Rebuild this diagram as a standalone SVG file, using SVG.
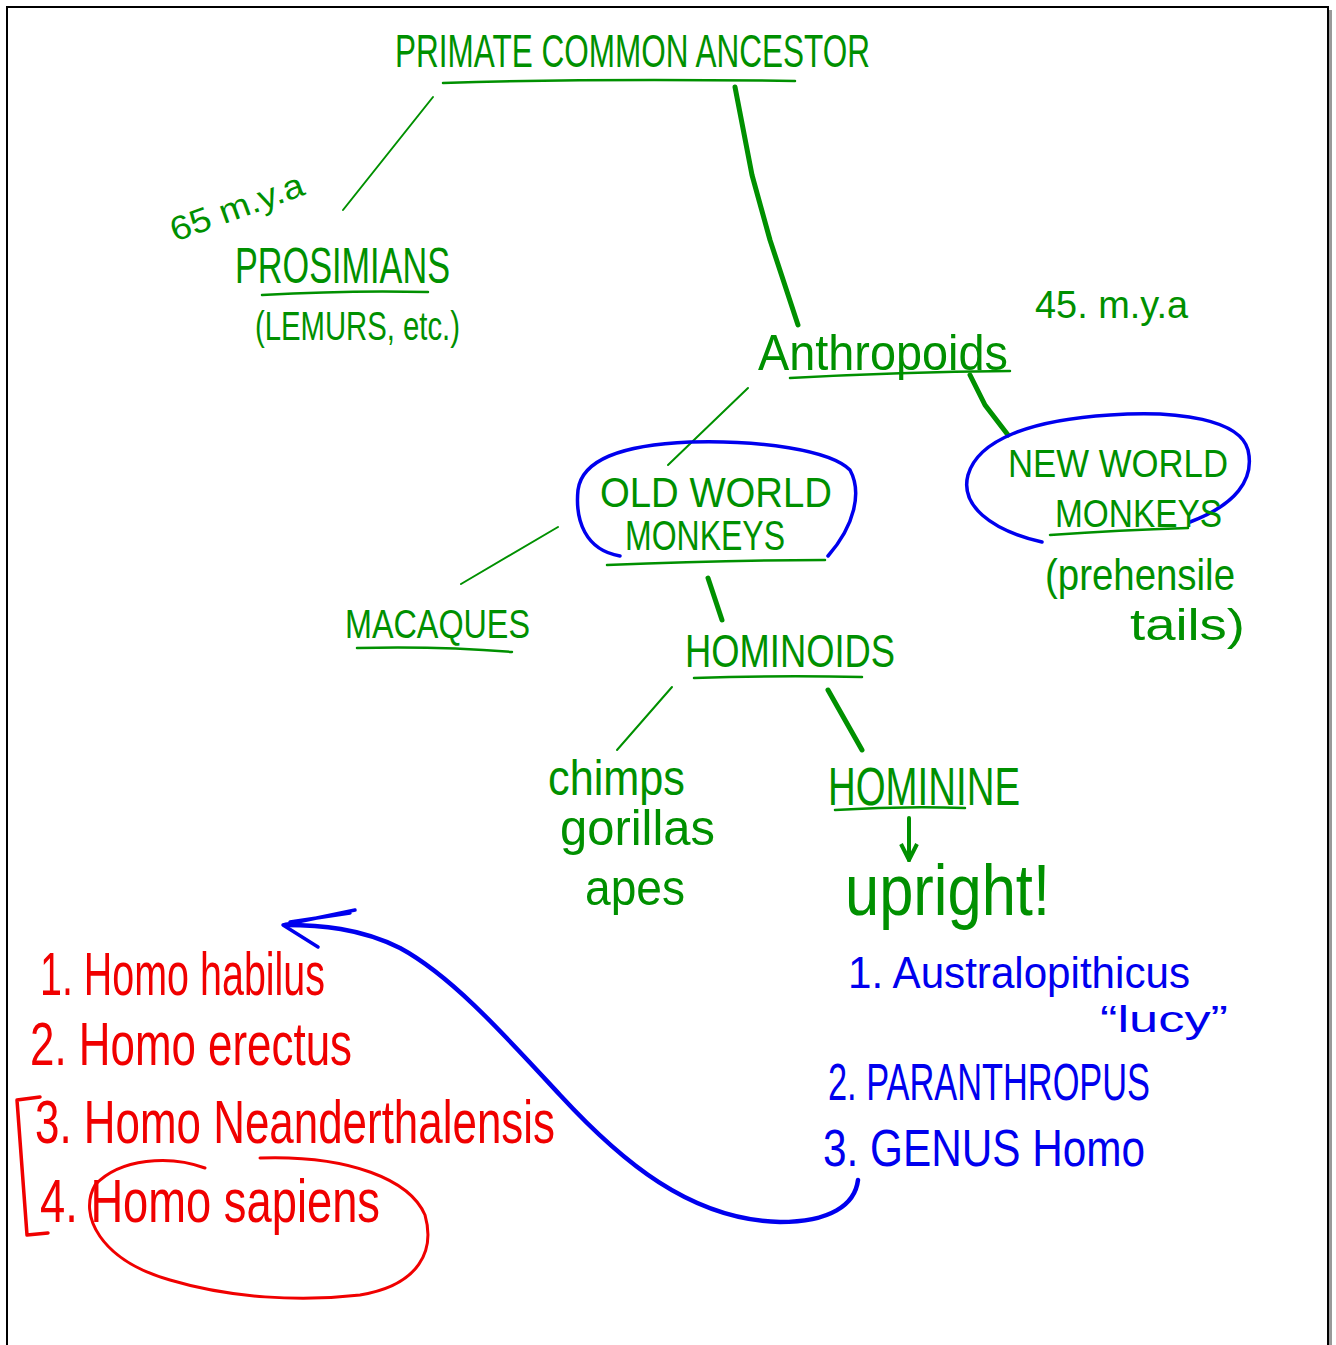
<svg xmlns="http://www.w3.org/2000/svg" width="1336" height="1345" viewBox="0 0 1336 1345">
<style>
text{font-family:"Liberation Sans","DejaVu Sans",sans-serif;}
.g{fill:#009000;}
.b{fill:#0000EE;}
.r{fill:#F00000;}
.gl{fill:none;stroke:#009000;stroke-linecap:round;stroke-linejoin:round;}
.bl{fill:none;stroke:#0000EE;stroke-linecap:round;stroke-linejoin:round;}
.rl{fill:none;stroke:#F00000;stroke-linecap:round;stroke-linejoin:round;}
</style>
<defs>
<marker id="ah" viewBox="0 0 10 10" refX="9" refY="5" markerWidth="5" markerHeight="5" orient="auto">
<path d="M1,1 L9,5 L1,9" fill="none" stroke="#009000" stroke-width="2"/>
</marker>
</defs>
<rect x="0" y="0" width="1336" height="1345" fill="#fff"/>
<path d="M1330,10 L1330,1345" stroke="#999" stroke-width="4"/>
<path d="M7,1345 L7,7 L1328,7 L1328,1345" fill="none" stroke="#000" stroke-width="2"/>

<g id="connectors">
<path class="gl" stroke-width="2" d="M433,97 L343,210"/>
<path class="gl" stroke-width="5" d="M735,87 L752,175 L770,240 L798,325"/>
<path class="gl" stroke-width="2" d="M748,388 L668,465"/>
<path class="gl" stroke-width="5" d="M970,375 L985,405 L1008,435"/>
<path class="gl" stroke-width="2" d="M558,527 L461,584"/>
<path class="gl" stroke-width="5" d="M708,578 L722,620"/>
<path class="gl" stroke-width="2" d="M672,687 L617,750"/>
<path class="gl" stroke-width="5" d="M828,690 L862,750"/>
<path class="gl" stroke-width="4" d="M909,818 L909,860" marker-end="url(#ah)"/>
<path class="bl" stroke-width="4.5" d="M858,1180 C855,1205 830,1222 780,1222 C690,1220 620,1160 560,1095 C500,1030 450,975 400,948 C360,928 320,925 285,925"/>
<path class="bl" stroke-width="3.5" d="M318,947 L283,925 L355,910 M290,922 L350,913"/>
</g>

<g id="primate-common-ancestor">
<text class="g" x="395" y="67" font-size="46" textLength="475" lengthAdjust="spacingAndGlyphs">PRIMATE COMMON ANCESTOR</text>
<path class="gl" stroke-width="2.5" d="M443,83 Q600,78 795,81"/>
</g>

<g id="mya-65">
<text class="g" x="175" y="242" font-size="34" textLength="140" lengthAdjust="spacingAndGlyphs" transform="rotate(-20 175 242)">65 m.y.a</text>
</g>

<g id="prosimians">
<text class="g" x="235" y="283" font-size="50" textLength="215" lengthAdjust="spacingAndGlyphs">PROSIMIANS</text>
<path class="gl" stroke-width="2.5" d="M262,295 Q350,290 428,292"/>
<text class="g" x="255" y="340" font-size="40" textLength="205" lengthAdjust="spacingAndGlyphs">(LEMURS, etc.)</text>
</g>

<g id="anthropoids">
<text class="g" x="758" y="370" font-size="50" textLength="250" lengthAdjust="spacingAndGlyphs">Anthropoids</text>
<path class="gl" stroke-width="2.5" d="M790,378 Q900,372 1010,371"/>
</g>

<g id="mya-45">
<text class="g" x="1035" y="318" font-size="38" textLength="153" lengthAdjust="spacingAndGlyphs">45. m.y.a</text>
</g>

<g id="old-world-monkeys">
<path class="bl" stroke-width="3.5" d="M620,556 C585,550 575,520 578,490 C582,460 620,445 690,442 C760,440 830,450 850,470 C862,492 855,525 828,556"/>
<text class="g" x="600" y="507" font-size="42" textLength="232" lengthAdjust="spacingAndGlyphs">OLD WORLD</text>
<text class="g" x="625" y="550" font-size="42" textLength="160" lengthAdjust="spacingAndGlyphs">MONKEYS</text>
<path class="gl" stroke-width="2.5" d="M607,565 Q720,560 825,560"/>
</g>

<g id="new-world-monkeys">
<path class="bl" stroke-width="3.5" d="M1042,542 C990,530 960,505 968,475 C978,440 1030,420 1110,415 C1180,410 1240,420 1248,450 C1255,480 1235,505 1190,522"/>
<text class="g" x="1008" y="477" font-size="38" textLength="220" lengthAdjust="spacingAndGlyphs">NEW WORLD</text>
<text class="g" x="1055" y="527" font-size="38" textLength="167" lengthAdjust="spacingAndGlyphs">MONKEYS</text>
<path class="gl" stroke-width="2.5" d="M1050,535 Q1120,530 1188,528"/>
<text class="g" x="1045" y="590" font-size="44" textLength="190" lengthAdjust="spacingAndGlyphs">(prehensile</text>
<text class="g" x="1130" y="640" font-size="44" textLength="115" lengthAdjust="spacingAndGlyphs">tails)</text>
</g>

<g id="macaques">
<text class="g" x="345" y="638" font-size="40" textLength="185" lengthAdjust="spacingAndGlyphs">MACAQUES</text>
<path class="gl" stroke-width="2.5" d="M357,648 Q440,646 512,652"/>
</g>

<g id="hominoids">
<text class="g" x="685" y="667" font-size="46" textLength="210" lengthAdjust="spacingAndGlyphs">HOMINOIDS</text>
<path class="gl" stroke-width="2.5" d="M694,678 Q780,675 862,677"/>
</g>

<g id="apes">
<text class="g" x="548" y="795" font-size="50" textLength="137" lengthAdjust="spacingAndGlyphs">chimps</text>
<text class="g" x="560" y="845" font-size="50" textLength="155" lengthAdjust="spacingAndGlyphs">gorillas</text>
<text class="g" x="585" y="905" font-size="50" textLength="100" lengthAdjust="spacingAndGlyphs">apes</text>
</g>

<g id="hominine">
<text class="g" x="828" y="805" font-size="54" textLength="192" lengthAdjust="spacingAndGlyphs">HOMININE</text>
<path class="gl" stroke-width="2.5" d="M835,810 Q900,806 965,808"/>
<text class="g" x="845" y="915" font-size="72" textLength="205" lengthAdjust="spacingAndGlyphs">upright!</text>
</g>

<g id="hominine-list">
<text class="b" x="848" y="988" font-size="44" textLength="342" lengthAdjust="spacingAndGlyphs">1. Australopithicus</text>
<text class="b" x="1100" y="1032" font-size="36" textLength="128" lengthAdjust="spacingAndGlyphs">“lucy”</text>
<text class="b" x="828" y="1100" font-size="52" textLength="322" lengthAdjust="spacingAndGlyphs">2. PARANTHROPUS</text>
<text class="b" x="823" y="1166" font-size="52" textLength="322" lengthAdjust="spacingAndGlyphs">3. GENUS  Homo</text>
</g>

<g id="homo-list">
<text class="r" x="40" y="995" font-size="62" textLength="285" lengthAdjust="spacingAndGlyphs">1. Homo habilus</text>
<text class="r" x="30" y="1065" font-size="62" textLength="322" lengthAdjust="spacingAndGlyphs">2. Homo erectus</text>
<text class="r" x="35" y="1143" font-size="62" textLength="520" lengthAdjust="spacingAndGlyphs">3. Homo Neanderthalensis</text>
<text class="r" x="40" y="1222" font-size="62" textLength="340" lengthAdjust="spacingAndGlyphs">4. Homo sapiens</text>
<path class="rl" stroke-width="3.5" d="M40,1097 L17,1100 L27,1235 L48,1233"/>
<path class="rl" stroke-width="3" d="M205,1168 C170,1155 120,1158 95,1185 C78,1215 100,1260 170,1280 C230,1298 300,1302 360,1295 C420,1285 435,1250 425,1215 C410,1180 350,1155 260,1158"/>
</g>
</svg>
